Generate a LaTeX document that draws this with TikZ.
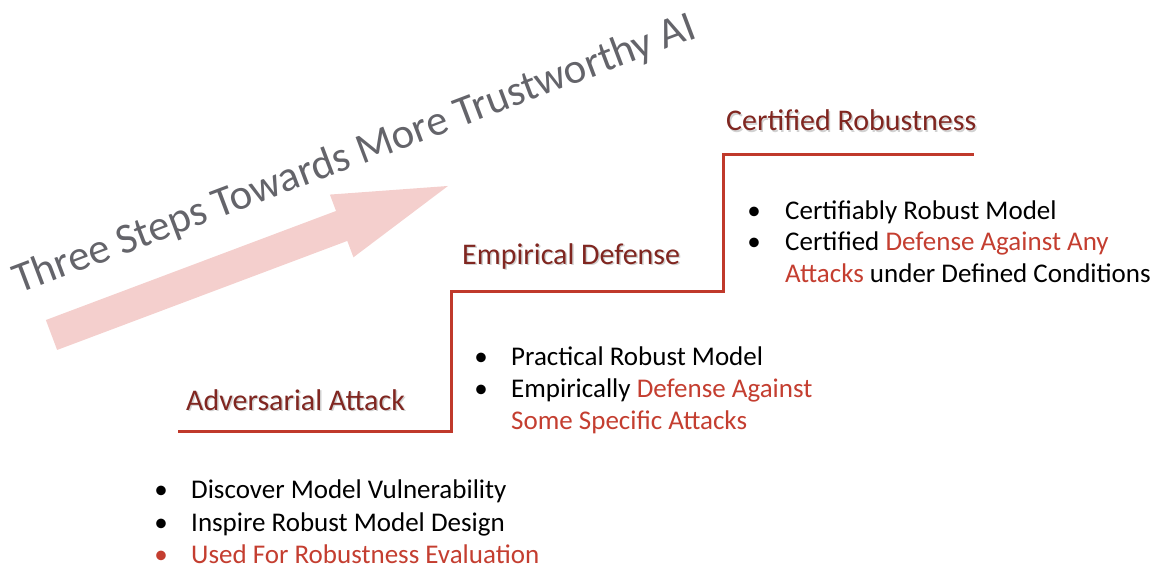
\documentclass[tikz,border=0pt]{standalone}
\usepackage{fontspec}
\setmainfont{Carlito}
\definecolor{steplinecol}{RGB}{192,57,43}
\definecolor{headcol}{RGB}{128,38,32}
\definecolor{redtxt}{RGB}{196,62,48}
\definecolor{arrowpink}{RGB}{244,207,205}
\definecolor{titlegray}{RGB}{100,100,106}
\tikzset{
  x=1pt, y=1pt,
  headtxt/.style={inner sep=0pt, anchor=base west, text=headcol, font=\fontsize{30}{30}\selectfont},
  headshadow/.style={inner sep=0pt, anchor=base west, text=black!30, opacity=0.6, font=\fontsize{30}{30}\selectfont},
  bodytxt/.style={inner sep=0pt, anchor=base west, text=black, font=\fontsize{27}{27}\selectfont},
  bul/.style={inner sep=0pt, anchor=base, font=\fontsize{27}{27}\selectfont},
  stepline/.style={draw=steplinecol, line width=3pt, line join=miter},
}
\begin{document}
\begin{tikzpicture}
\useasboundingbox (0,0) rectangle (1161,566);
% big pink arrow
\begin{scope}[shift={(51.5,231)}, rotate=20.6]
  \fill[arrowpink] (0,-16) -- (310,-16) -- (310,-33.5) -- (423.6,0) -- (310,33.5) -- (310,16) -- (0,16) -- cycle;
\end{scope}
% title
\node[inner sep=0pt, anchor=base west, rotate=20.7, text=titlegray, font=\fontsize{42.8}{42.8}\selectfont] (title) at (19,272) {Three Steps Towards More Trustworthy AI};
% step line
\coordinate (s0) at (178,135);
\coordinate (s1) at (451,135);
\coordinate (s2) at (451,275);
\coordinate (s3) at (723,275);
\coordinate (s4) at (723,411);
\coordinate (s5) at (974,411);
\draw[stepline] (s0) -- (s1) -- (s2) -- (s3) -- (s4) -- (s5);
% headings with shadow
\node[headshadow] at (727.5,433.5) {Certified Robustness};
\node[headtxt] (h3) at (726,435) {Certified Robustness};
\node[headshadow] at (463.5,300.5) {Empirical Defense};
\node[headtxt] (h2) at (462,302) {Empirical Defense};
\node[headshadow] at (187.5,154.5) {Adversarial Attack};
\node[headtxt] (h1) at (186,156) {Adversarial Attack};
% right block
\node[bul] (rb1) at (754,347) {•};
\node[bodytxt] (rt1) at (785,347) {Certifiably Robust Model};
\node[bul] (rb2) at (754,316) {•};
\node[bodytxt] (rt2) at (785,316) {Certified \textcolor{redtxt}{Defense Against Any}};
\node[bodytxt] (rt3) at (785,284) {\textcolor{redtxt}{Attacks} under Defined Conditions};
% middle block
\node[bul] (mb1) at (481,201) {•};
\node[bodytxt] (mt1) at (511,201) {Practical Robust Model};
\node[bul] (mb2) at (481,169) {•};
\node[bodytxt] (mt2) at (511,169) {Empirically \textcolor{redtxt}{Defense Against}};
\node[bodytxt, text=redtxt] (mt3) at (511,137) {Some Specific Attacks};
% bottom block
\node[bul] (bb1) at (161,68) {•};
\node[bodytxt] (bt1) at (191,68) {Discover Model Vulnerability};
\node[bul] (bb2) at (161,35) {•};
\node[bodytxt] (bt2) at (191,35) {Inspire Robust Model Design};
\node[bul, text=redtxt] (bb3) at (161,3) {•};
\node[bodytxt, text=redtxt] (bt3) at (191,3) {Used For Robustness Evaluation};
\end{tikzpicture}
\end{document}
